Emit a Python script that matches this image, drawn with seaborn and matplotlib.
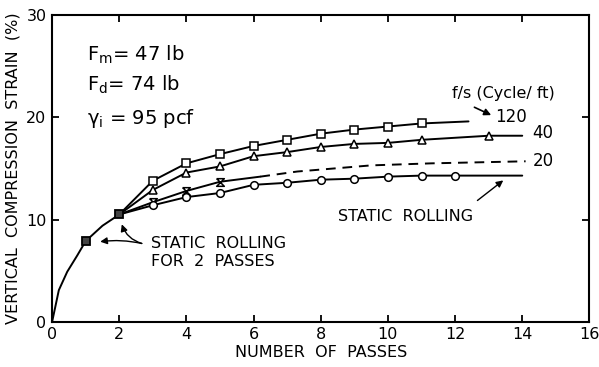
import numpy as np
import pandas as pd
import matplotlib
matplotlib.use('Agg')
import matplotlib.pyplot as plt
import seaborn as sns

# Values
init_x = [0, 0.2, 0.45, 0.75, 1, 1.5, 2]
init_y = [0, 3.1, 4.9, 6.5, 7.9, 9.4, 10.5]
static2_x = [1, 2]
static2_y = [7.9, 10.5]

f120_x = [2, 3, 4, 5, 6, 7, 8, 9, 10, 11, 12.4]
f120_y = [10.5, 13.8, 15.5, 16.4, 17.2, 17.8, 18.4, 18.8, 19.1, 19.4, 19.6]
f120_mark = [3, 4, 5, 6, 7, 8, 9, 10, 11]

f40_x = [2, 3, 4, 5, 6, 7, 8, 9, 10, 11, 13, 14]
f40_y = [10.5, 12.9, 14.6, 15.2, 16.2, 16.6, 17.1, 17.4, 17.5, 17.8, 18.2, 18.2]
f40_mark = [3, 4, 5, 6, 7, 8, 9, 10, 11, 13]

f20_x = [2, 3, 4, 5, 6.2]
f20_y = [10.5, 11.7, 12.8, 13.7, 14.2]
f20_mark = [3, 4, 5]
f20_dash_x = [6.2, 7.3, 9.5, 11.3, 14.1]
f20_dash_y = [14.2, 14.7, 15.3, 15.5, 15.7]

stat_x = [2, 3, 4, 5, 6, 7, 8, 9, 10, 11, 12, 14]
stat_y = [10.5, 11.4, 12.2, 12.6, 13.4, 13.6, 13.9, 14.0, 14.2, 14.3, 14.3, 14.3]
stat_mark = [3, 4, 5, 6, 7, 8, 9, 10, 11, 12]

x_ticks = [0, 2, 4, 6, 8, 10, 12, 14, 16]
y_ticks = [0, 10, 20, 30]

sns.set_style('ticks')
plt.rcParams['font.family'] = ['DejaVu Sans']
for k in ['text.color', 'axes.labelcolor', 'xtick.color', 'ytick.color']:
    plt.rcParams[k] = 'black'

fig = plt.figure(figsize=(5.99, 3.67), dpi=100)
ax = fig.add_axes([0.087, 0.123, 0.897, 0.836])

lw = 1.4
ms = 5.5
hourglass = [(-1, 1), (1, 1), (-1, -1), (1, -1), (-1, 1)]


def draw(xs, ys, marks, marker, ls='-'):
    df = pd.DataFrame({'x': xs, 'y': ys})
    sns.lineplot(data=df, x='x', y='y', ax=ax, color='black', lw=lw,
                 linestyle=ls, estimator=None, sort=False)
    if marks:
        m = df[df['x'].isin(marks)]
        sns.lineplot(data=m, x='x', y='y', ax=ax, color='black', lw=0,
                     marker=marker, markersize=ms, markerfacecolor='white',
                     markeredgecolor='black', markeredgewidth=1.1,
                     estimator=None, sort=False)


draw(init_x, init_y, None, None)
draw(f120_x, f120_y, f120_mark, 's')
draw(f40_x, f40_y, f40_mark, '^')
draw(f20_x, f20_y, f20_mark, hourglass)
draw(f20_dash_x, f20_dash_y, None, None, ls=(0, (5, 3.5)))
draw(stat_x, stat_y, stat_mark, 'o')
sns.lineplot(x=static2_x, y=static2_y, ax=ax, lw=0, marker='s',
             markersize=ms, markerfacecolor='#444444', markeredgecolor='black',
             markeredgewidth=1.3, estimator=None)

ax.set_xlim(0, 16)
ax.set_ylim(0, 30)
ax.set_xticks(x_ticks)
ax.set_yticks(y_ticks)
ax.tick_params(direction='in', length=5, width=1.3, labelsize=11.5,
               top=True, right=True, pad=4)
for s in ax.spines.values():
    s.set_visible(True)
    s.set_linewidth(1.5)
    s.set_color('black')
ax.set_xlabel('NUMBER  OF  PASSES', fontsize=11.5, labelpad=2)
ax.set_ylabel('VERTICAL  COMPRESSION  STRAIN  (%)', fontsize=11.5, labelpad=4)

# parameter block
ax.text(1.05, 26.1, r'$\mathregular{F_m}$= 47 lb', fontsize=14, va='center')
ax.text(1.05, 23.2, r'$\mathregular{F_d}$= 74 lb', fontsize=14, va='center')
ax.text(1.05, 19.9, r'$\mathregular{\gamma_i}$ = 95 pcf', fontsize=14, va='center')

# curve labels
ax.text(11.9, 22.3, 'f/s (Cycle/ ft)', fontsize=11.5, va='center')
ax.text(13.2, 20.0, '120', fontsize=12, va='center')
ax.text(14.3, 18.5, '40', fontsize=12, va='center')
ax.text(14.3, 15.7, '20', fontsize=12, va='center')
ax.annotate('', xy=(13.15, 20.1), xytext=(12.5, 21.1),
            arrowprops=dict(arrowstyle='-|>', color='black', lw=1.2))

ax.text(8.5, 10.3, 'STATIC  ROLLING', fontsize=11.5, va='center')
ax.annotate('', xy=(13.5, 14.0), xytext=(12.6, 11.7),
            arrowprops=dict(arrowstyle='-|>', color='black', lw=1.0))

ax.text(2.95, 7.7, 'STATIC  ROLLING', fontsize=11.5, va='center')
ax.text(2.95, 5.9, 'FOR  2  PASSES', fontsize=11.5, va='center')
ax.annotate('', xy=(1.35, 7.8), xytext=(2.75, 7.6),
            arrowprops=dict(arrowstyle='-|>', color='black', lw=1.0,
                            connectionstyle='arc3,rad=0.1'))
ax.annotate('', xy=(2.05, 9.8), xytext=(2.75, 7.6),
            arrowprops=dict(arrowstyle='-|>', color='black', lw=1.0,
                            connectionstyle='arc3,rad=-0.3'))

fig.savefig('out.png', dpi=100)
